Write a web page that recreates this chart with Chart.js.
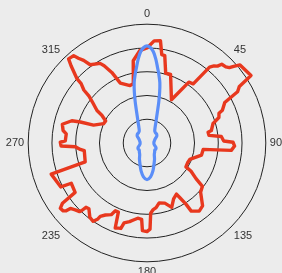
<!DOCTYPE html>
<html>
<head>
<meta charset="utf-8">
<script src="https://cdn.jsdelivr.net/npm/chart.js@4"></script>
<style>
html, body { margin:0; padding:0; background:#ececec; overflow:hidden; width:282px; height:273px; }
#wrap { position:absolute; left:-23px; top:7px; }
</style>
</head>
<body>
<div id="wrap"><canvas id="polar" width="340" height="272"></canvas></div>
<script>
// etiquetas del eje angular (cada 45 grados)
var etiquetas = ['0', '45', '90', '135', '180', '235', '270', '315'];

// serie roja: vertices (angulo en grados, radio)
var rojoAng = [0, 4, 7.5, 9.5, 11.5, 15, 19, 29.5, 34.5, 38, 39.5, 41, 42.5, 43.5, 46, 47.5, 48.5, 50, 57, 58.5,
  60.5, 61, 62.5, 66.5, 67.5, 70.5, 73.5, 79, 80, 83, 85, 88.5, 89.5, 92, 95, 96.5, 102.5, 111, 116, 121.5,
  122.5, 126, 128, 132.5, 138.5, 142.5, 145, 147, 147.5, 149, 150, 154.5, 159, 163.5, 168.5, 172, 175, 177, 178, 180,
  183, 184, 187, 190, 192.5, 196, 197, 198.5, 200.5, 202.5, 205, 206.5, 210, 212.5, 213, 214.5, 217.5, 221.5, 223.5, 224,
  224.5, 227, 229.5, 230, 231, 233, 234.5, 235.5, 242, 243, 252, 253, 263, 264.5, 267, 268, 270.5, 271.5, 276.5, 278.5,
  282.5, 286.5, 287.5, 288.5, 294, 298, 301.5, 303, 306.5, 309, 310, 312, 312.5, 315.5, 317, 320, 321, 322.5, 324, 329.5,
  331, 333.5, 336, 343.5, 347, 350.5, 355.5];
var rojoVal = [4.00, 4.31, 4.34, 3.77, 3.75, 3.04, 3.05, 2.09, 3.11, 3.16, 4.14, 4.30, 4.39, 4.57, 4.61, 4.70, 4.87, 5.11, 5.22, 4.56,
  4.38, 4.17, 3.69, 3.46, 3.28, 3.21, 2.90, 2.76, 2.61, 2.63, 3.14, 3.23, 3.62, 3.69, 3.56, 2.38, 2.35, 1.93, 1.90, 1.92,
  2.19, 2.55, 2.96, 3.06, 3.53, 3.61, 3.50, 3.42, 3.05, 2.69, 2.48, 2.60, 2.90, 2.64, 2.57, 2.75, 2.83, 2.96, 3.63, 3.73,
  3.69, 3.22, 3.19, 3.29, 3.39, 3.50, 3.76, 3.78, 3.82, 3.15, 3.15, 3.37, 3.50, 3.66, 3.83, 4.00, 3.95, 3.69, 3.73, 3.95,
  4.05, 4.13, 4.24, 4.44, 4.54, 4.57, 4.37, 3.67, 3.61, 4.07, 4.24, 2.72, 2.66, 2.82, 3.02, 3.62, 3.65, 3.44, 3.42, 3.57,
  3.65, 3.30, 2.94, 2.37, 2.00, 1.97, 2.23, 2.51, 2.83, 3.14, 3.47, 3.73, 3.99, 4.56, 4.84, 4.80, 4.59, 4.38, 4.07, 3.89,
  3.72, 3.32, 2.76, 2.52, 2.56, 3.51, 3.90];

// serie azul: lobulo (angulo en grados, radio)
var azulAng = [0, 2, 4, 6, 8, 10, 12, 14, 16, 18, 20, 24, 28, 33, 40, 48, 55, 62, 70, 80, 90, 100, 110, 118, 125, 132, 140, 148, 155, 162, 168, 174,
  180, 186, 192, 198, 205, 212, 220, 228, 235, 242, 250, 260, 270, 280, 290, 298, 305, 312, 320, 327, 332, 336, 340, 342, 344, 346, 348, 350, 352, 354, 356, 358];
var azulVal = [4.09, 4.02, 3.85, 3.55, 3.20, 2.90, 2.60, 2.20, 1.80, 1.45, 1.20, 0.90, 0.72, 0.60, 0.56, 0.55, 0.50, 0.40, 0.34, 0.30, 0.29, 0.30, 0.36, 0.43, 0.45, 0.44, 0.50, 0.58, 0.75, 0.95, 1.20, 1.43,
  1.54, 1.43, 1.20, 0.95, 0.75, 0.58, 0.50, 0.44, 0.45, 0.43, 0.36, 0.30, 0.29, 0.30, 0.34, 0.40, 0.50, 0.55, 0.56, 0.60, 0.72, 0.90, 1.20, 1.45, 1.80, 2.20, 2.60, 2.90, 3.20, 3.55, 3.85, 4.02];

// una categoria cada medio grado
var angulos = [];
for (var i = 0; i < 720; i++) angulos.push(i / 2);

function serie(angs, vals) {
  var d = angulos.map(function () { return null; });
  for (var k = 0; k < angs.length; k++) d[Math.round(angs[k] * 2) % 720] = vals[k];
  return d;
}

var grafica = new Chart(document.getElementById('polar'), {
  type: 'radar',
  data: {
    labels: angulos,
    datasets: [
      { data: serie(azulAng, azulVal), borderColor: '#5b8ef8', borderWidth: 3.2, tension: 0.3,
        spanGaps: true, fill: false, pointRadius: 0 },
      { data: serie(rojoAng, rojoVal), borderColor: '#e8381e', borderWidth: 3.4, tension: 0,
        spanGaps: true, fill: false, pointRadius: 0, borderJoinStyle: 'round', borderCapStyle: 'round' }
    ]
  },
  options: {
    responsive: false,
    animation: false,
    plugins: { legend: { display: false }, tooltip: { enabled: false } },
    scales: {
      r: {
        min: 0, max: 5,
        ticks: { display: false, stepSize: 1 },
        angleLines: { display: false },
        grid: { circular: true, color: '#222', lineWidth: 1 },
        pointLabels: {
          padding: 4, color: '#333',
          font: { family: 'Liberation Sans', size: 11 },
          callback: function (v, idx) { return idx % 90 === 0 ? etiquetas[idx / 90] : ''; }
        }
      }
    }
  }
});
</script>
</body>
</html>
